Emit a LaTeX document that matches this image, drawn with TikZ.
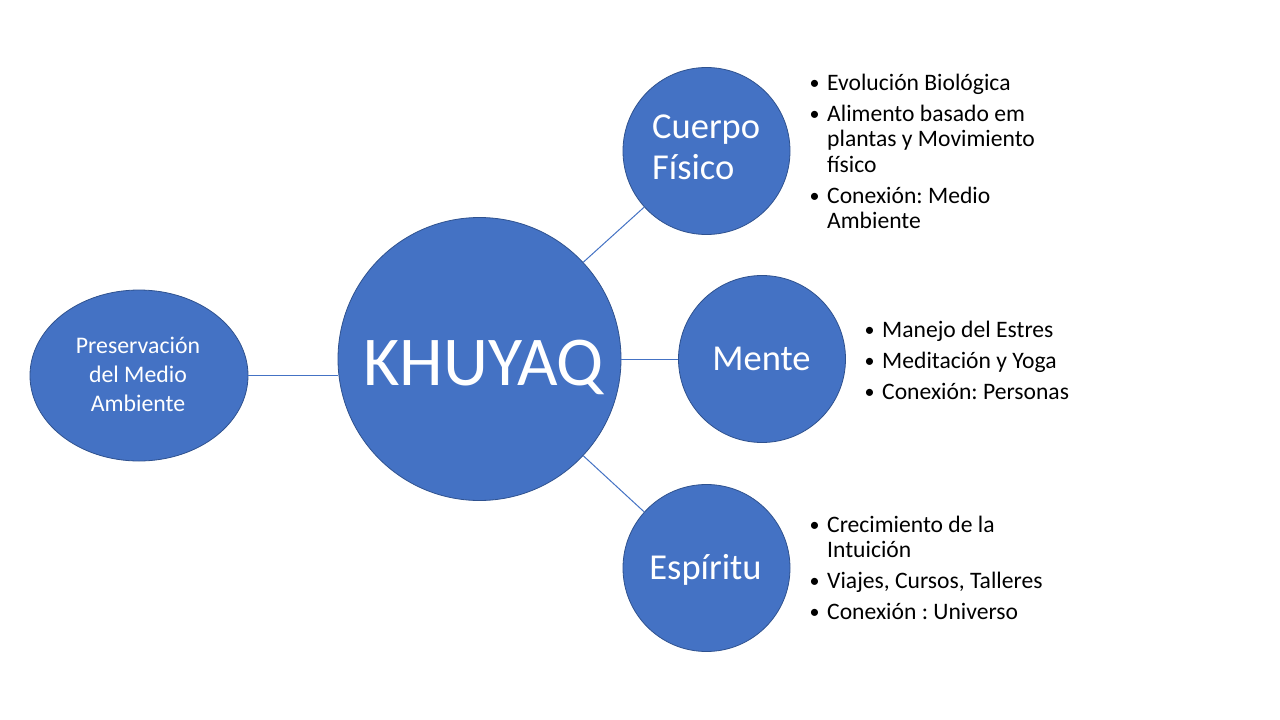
\documentclass[tikz,border=0pt]{standalone}
\usepackage{fontspec}
\setmainfont{Carlito}
\usetikzlibrary{shapes.geometric}
\definecolor{accent}{RGB}{68,114,196}
\definecolor{accentdark}{RGB}{47,82,143}
\tikzset{
  circ/.style={circle, fill=accent, draw=accentdark, line width=0.8pt, inner sep=0pt},
  conn/.style={draw=accent, line width=1pt},
  lbl/.style={inner sep=0pt, text=white},
  listbox/.style={inner sep=0pt, text=black, anchor=base west}
}
\frenchspacing
\newcommand{\bdot}{\makebox[16pt][l]{\hspace*{-1.5pt}\raisebox{0.8pt}{\fontsize{20}{20}\selectfont •}}}
\newcommand{\bitem}[1]{\hangindent=16pt\hangafter=1\noindent\bdot#1\par}
\newcommand{\blist}[1]{\parbox[t]{320pt}{\raggedright\frenchspacing\fontsize{23.6}{25.5}\selectfont\setlength{\parskip}{5.5pt}#1}}
\begin{document}
\begin{tikzpicture}[x=1pt,y=-1pt]
\useasboundingbox (0,0) rectangle (1280,720);
\fill[white] (0,0) rectangle (1280,720);

% shapes
\node[ellipse, fill=accent, draw=accentdark, line width=0.8pt, inner sep=0pt,
      minimum width=218pt, minimum height=171pt] (pres) at (139,375.5) {};
\node[circ, minimum size=283pt] (khuyaq) at (479.5,359) {};
\node[circ, minimum size=167pt] (cuerpo) at (706.5,151) {};
\node[circ, minimum size=167pt] (mente) at (762,359) {};
\node[circ, minimum size=167pt] (espiritu) at (706.5,568) {};

% connectors
\draw[conn] (pres.east) -- (pres.east -| khuyaq.west);
\draw[conn] (khuyaq.43) -- (cuerpo.222);
\draw[conn] (khuyaq.east) -- (mente.west);
\draw[conn] (khuyaq.-43) -- (espiritu.138);

% labels inside shapes
\node[lbl, anchor=base] (presT) at (138,353.3)
  {\parbox[t]{200pt}{\centering\fontsize{23.8}{29}\selectfont Preservación\\del Medio\\Ambiente}};
\node[lbl, anchor=base] (khuyaqT) at (483.5,385) {\fontsize{70}{74}\selectfont KHUYAQ};
\node[lbl, anchor=base west] (cuerpoT) at (652,138)
  {\parbox[t]{200pt}{\raggedright\fontsize{36.5}{41.5}\selectfont Cuerpo\\Físico}};
\node[lbl, anchor=base] (menteT) at (761.5,370) {\fontsize{36.5}{41.5}\selectfont Mente};
\node[lbl, anchor=base] (espirituT) at (705.5,579) {\fontsize{36.5}{41.5}\selectfont Espíritu};

% bullet lists
\node[listbox] (cuerpoL) at (811,90) {\blist{%
  \bitem{Evolución Biológica}%
  \bitem{Alimento basado em\newline plantas y Movimiento\newline físico}%
  \bitem{Conexión: Medio\newline Ambiente}}};
\node[listbox] (menteL) at (866,337.5) {\blist{%
  \bitem{Manejo del Estres}%
  \bitem{Meditación y Yoga}%
  \bitem{Conexión: Personas}}};
\node[listbox] (espiritL) at (811,532) {\blist{%
  \bitem{Crecimiento de la\newline Intuición}%
  \bitem{Viajes, Cursos, Talleres}%
  \bitem{Conexión : Universo}}};
\end{tikzpicture}
\end{document}
